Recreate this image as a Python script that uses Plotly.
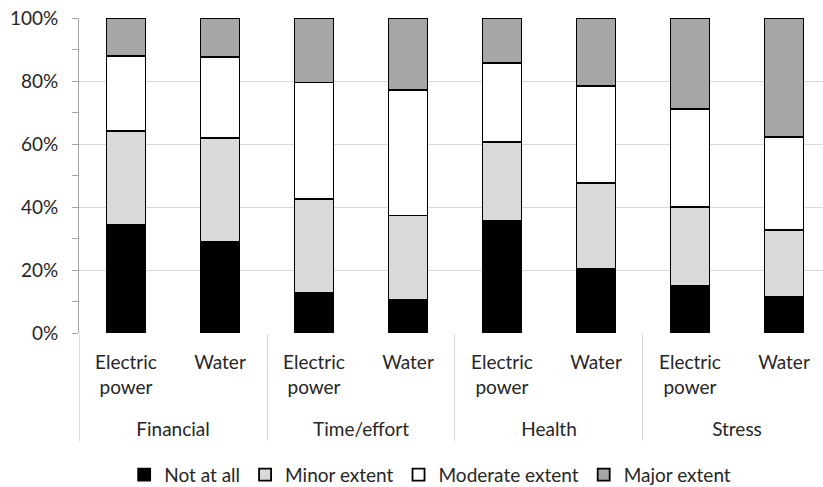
import plotly.graph_objects as go

groups = ["Financial", "Financial", "Time/effort", "Time/effort",
          "Health", "Health", "Stress", "Stress"]
sources = ["Electric<br>power<br><span style='font-size:63px'>&nbsp;</span>", "Water"] * 4

not_at_all = [34.4, 28.9, 12.6, 10.5, 35.5, 20.5, 15.0, 11.6]
minor_extent = [29.7, 33.1, 30.0, 26.8, 25.2, 27.2, 24.9, 21.0]
moderate_extent = [23.9, 25.7, 36.9, 39.8, 24.9, 30.8, 31.3, 29.7]
major_extent = [12.0, 12.3, 20.5, 22.9, 14.4, 21.5, 28.8, 37.7]

series_names = ["Not at all", "Minor extent", "Moderate extent", "Major extent"]
series_vals = [not_at_all, minor_extent, moderate_extent, major_extent]
colors = ["#000000", "#d9d9d9", "#ffffff", "#a6a6a6"]

FONT = "Lato, Calibri, Carlito, sans-serif"
TXT = "#262626"

fig = go.Figure()
for name, vals, col in zip(series_names, series_vals, colors):
    fig.add_trace(go.Bar(
        x=[groups, sources], y=[v / 100 for v in vals], name=name,
        marker=dict(color=col, line=dict(color="#000000", width=1.8)),
    ))

fig.update_layout(
    barmode="stack",
    bargap=0.585,
    width=823, height=487,
    margin=dict(l=79, r=0, t=18, b=154, autoexpand=False),
    plot_bgcolor="white", paper_bgcolor="white",
    font=dict(family=FONT, size=19, color=TXT),
    showlegend=True,
    legend=dict(orientation="h", x=0.472, xanchor="center", y=-0.45, yanchor="middle",
                font=dict(size=19, color=TXT), itemwidth=30, traceorder="normal"),
)
fig.update_yaxes(
    range=[0, 1], dtick=0.2, tickformat=".0%",
    automargin=False,
    showgrid=True, gridcolor="#d9d9d9", gridwidth=1,
    zeroline=False,
    showline=True, linecolor="#a6a6a6", linewidth=1,
    ticks="outside", ticklen=6, tickcolor="#a6a6a6",
    minor=dict(dtick=0.1, ticks="outside", ticklen=6, tickcolor="#a6a6a6", showgrid=False),
    ticklabelstandoff=10,
    tickfont=dict(size=19, color=TXT),
)
fig.update_xaxes(
    type="multicategory",
    automargin=False,
    range=[-0.5, 7.415],
    showline=False, ticks="",
    showdividers=True, dividercolor="#d9d9d9", dividerwidth=1,
    ticklabelstandoff=16,
    tickfont=dict(size=19, color=TXT),
)

fig.write_html("out.html", config={"displayModeBar": False})

# remove the browser's default body margin so the figure sits at the page origin
with open("out.html", encoding="utf-8") as f:
    html = f.read()
html = html.replace("<body>", "<body style=\"margin:0;padding:0;\">", 1)
with open("out.html", "w", encoding="utf-8") as f:
    f.write(html)
